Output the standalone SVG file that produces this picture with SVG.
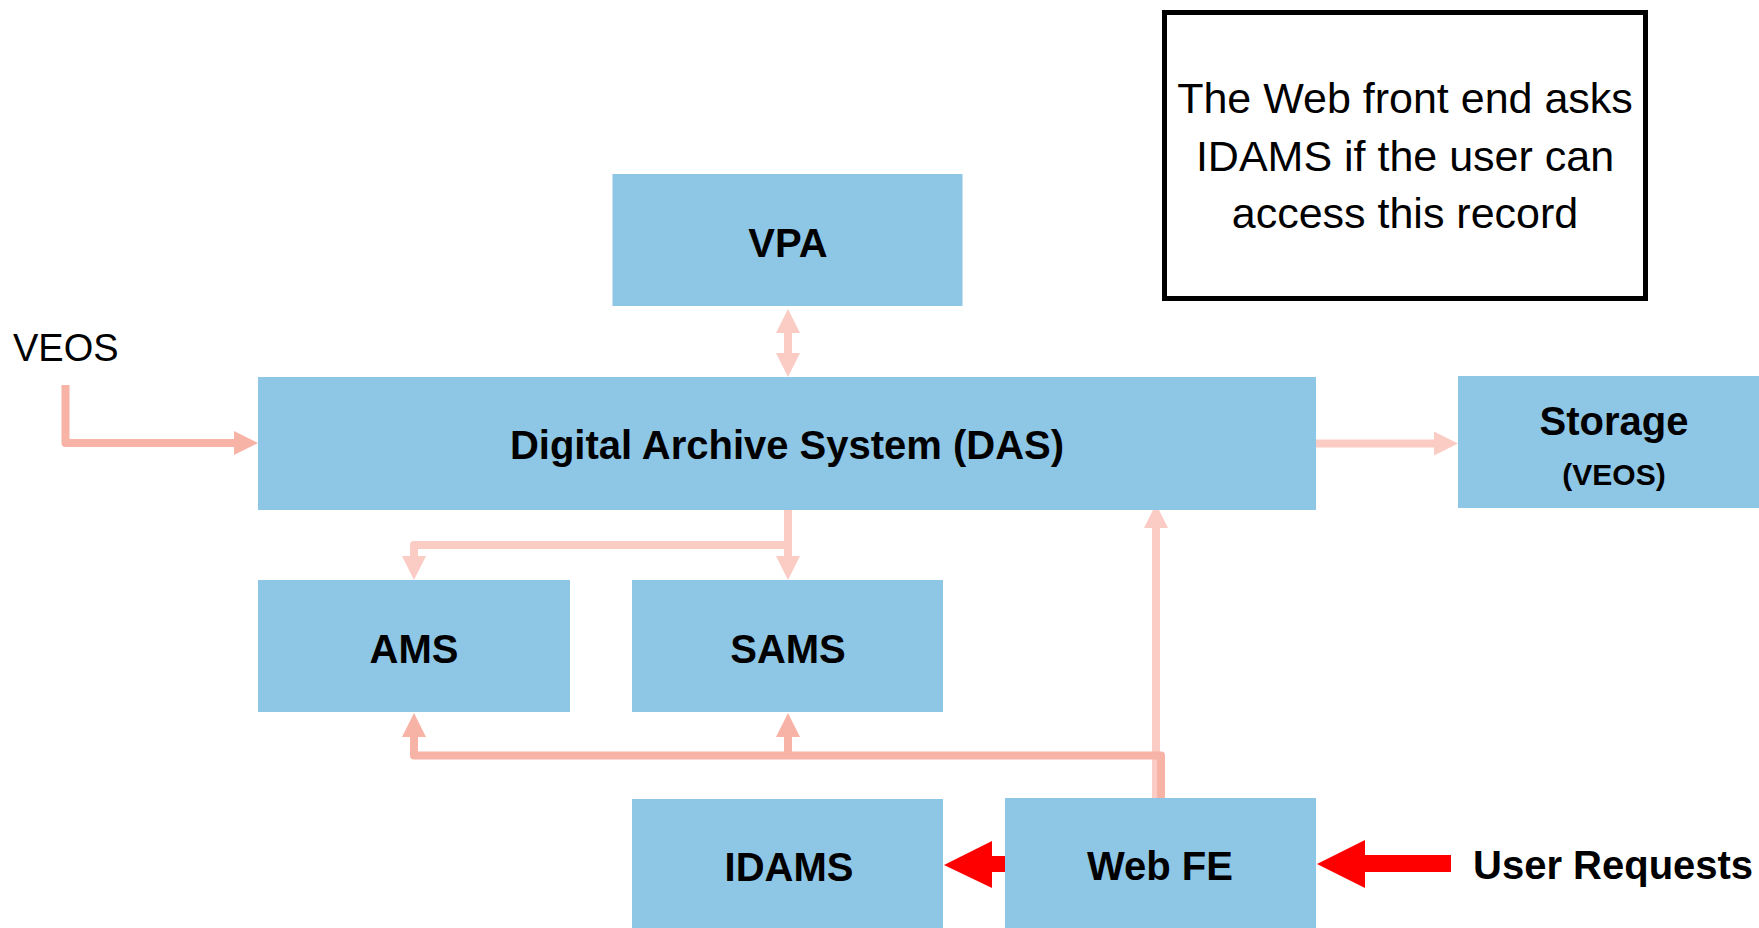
<svg xmlns="http://www.w3.org/2000/svg" width="1759" height="928" viewBox="0 0 1759 928">
  <style>
    .box { fill: #8EC6E6; }
    .lbl { font-family: "Liberation Sans", Arial, sans-serif; font-weight: bold; font-size: 40px; fill: #000; text-anchor: middle; }
    .note { font-family: "Liberation Sans", Arial, sans-serif; font-size: 43px; fill: #000; text-anchor: middle; }
    .light { fill: none; stroke: #FBCCC3; stroke-width: 8; stroke-linejoin: round; }
    .salmon { fill: none; stroke: #F7B3A6; stroke-width: 8; stroke-linejoin: round; }
    .red { fill: #FF0000; }
  </style>
  <defs>
    <marker id="ahLight" viewBox="0 0 24 24" markerWidth="24" markerHeight="24" markerUnits="userSpaceOnUse" refX="2" refY="12" orient="auto-start-reverse">
      <path d="M0,0 L24,12 L0,24 z" fill="#FBCCC3"/>
    </marker>
    <marker id="ahSalmon" viewBox="0 0 24 24" markerWidth="24" markerHeight="24" markerUnits="userSpaceOnUse" refX="2" refY="12" orient="auto-start-reverse">
      <path d="M0,0 L24,12 L0,24 z" fill="#F7B3A6"/>
    </marker>
  </defs>
  <rect width="1759" height="928" fill="#FFFFFF"/>

  <g id="connectors">
    <!-- VEOS -> DAS -->
    <path class="salmon" d="M65.5,385 L65.5,443 L236,443" marker-end="url(#ahSalmon)"/>
    <!-- VPA <-> DAS -->
    <path class="light" d="M788,331 L788,355" marker-start="url(#ahLight)" marker-end="url(#ahLight)"/>
    <!-- DAS -> Storage -->
    <path class="light" d="M1316,443.5 L1436,443.5" marker-end="url(#ahLight)"/>
    <!-- DAS -> SAMS -->
    <path class="light" d="M788,510 L788,558" marker-end="url(#ahLight)"/>
    <!-- DAS -> AMS -->
    <path class="light" d="M788,545 L414,545 L414,558" marker-end="url(#ahLight)"/>
    <!-- Web FE -> DAS -->
    <path class="light" d="M1156,798 L1156,526" marker-end="url(#ahLight)"/>
    <!-- Web FE -> AMS / SAMS -->
    <path class="salmon" d="M1161,798 L1161,755.5 L414,755.5 L414,735" marker-end="url(#ahSalmon)"/>
    <path class="salmon" d="M788,755.5 L788,735" marker-end="url(#ahSalmon)"/>
    <!-- Web FE -> IDAMS -->
    <polygon class="red" points="1006,856 992,856 992,841 944,865 992,888 992,872 1006,872"/>
    <!-- User Requests -> Web FE -->
    <polygon class="red" points="1451,855 1365,855 1365,840 1317,864 1365,888 1365,872 1451,872"/>
  </g>

  <g id="vpa">
    <rect class="box" x="612.5" y="174" width="350" height="132"/>
    <text class="lbl" x="788" y="257">VPA</text>
  </g>
  <g id="das">
    <rect class="box" x="258" y="377" width="1058" height="133"/>
    <text class="lbl" x="787" y="459">Digital Archive System (DAS)</text>
  </g>
  <g id="storage">
    <rect class="box" x="1458" y="376" width="301" height="132"/>
    <text class="lbl" x="1614" y="435">Storage</text>
    <text class="lbl" x="1614" y="485" style="font-size:30px">(VEOS)</text>
  </g>
  <g id="ams">
    <rect class="box" x="258" y="580" width="312" height="132"/>
    <text class="lbl" x="414" y="663">AMS</text>
  </g>
  <g id="sams">
    <rect class="box" x="632" y="580" width="311" height="132"/>
    <text class="lbl" x="788" y="663">SAMS</text>
  </g>
  <g id="idams">
    <rect class="box" x="632" y="799" width="311" height="129"/>
    <text class="lbl" x="789" y="881">IDAMS</text>
  </g>
  <g id="webfe">
    <rect class="box" x="1005" y="798" width="311" height="130"/>
    <text class="lbl" x="1160" y="880">Web FE</text>
  </g>
  <g id="user-requests">
    <text class="lbl" x="1473" y="879" style="text-anchor:start">User Requests</text>
  </g>
  <g id="veos">
    <text class="note" x="13" y="361" style="text-anchor:start;font-size:38px">VEOS</text>
  </g>
  <g id="note">
    <rect x="1164.5" y="12.5" width="481" height="286" fill="#FFFFFF" stroke="#000000" stroke-width="5"/>
    <text class="note" x="1405" y="113">The Web front end asks</text>
    <text class="note" x="1405" y="171">IDAMS if the user can</text>
    <text class="note" x="1405" y="228">access this record</text>
  </g>
</svg>
